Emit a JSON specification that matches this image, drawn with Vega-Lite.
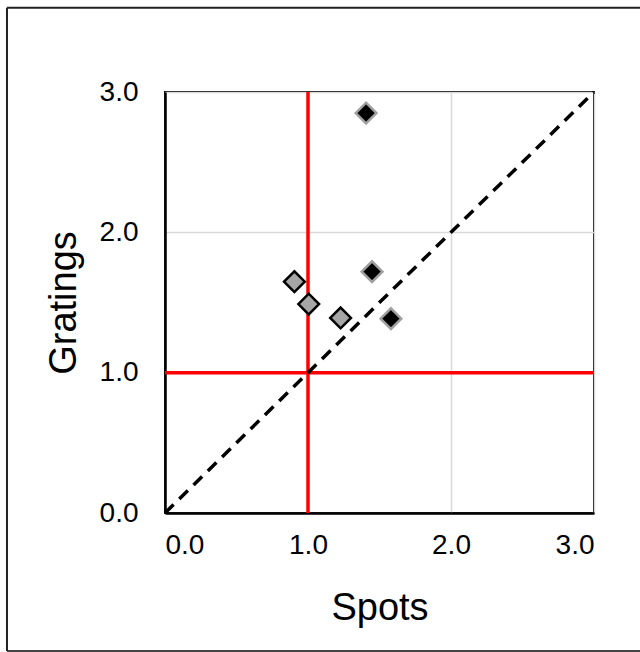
{
  "$schema": "https://vega.github.io/schema/vega-lite/v6.json",
  "autosize": {"type": "none"},
  "width": 429,
  "height": 421,
  "padding": {"left": 165, "top": 92, "right": 46, "bottom": 139},
  "background": "white",
  "config": {
    "view": {"stroke": "#000000", "strokeWidth": 2},
    "font": "Liberation Sans",
    "axis": {
      "domainColor": "#000000",
      "domainWidth": 2.5,
      "ticks": false,
      "gridColor": "#d9d9d9",
      "gridWidth": 1.5,
      "labelFont": "Liberation Sans",
      "labelFontSize": 28,
      "labelColor": "#000000",
      "titleFont": "Liberation Sans",
      "titleFontSize": 38,
      "titleFontWeight": "normal",
      "titleColor": "#000000"
    }
  },
  "datasets": {
    "points": [
      {"spots": 1.406, "gratings": 2.85, "group": "A"},
      {"spots": 1.448, "gratings": 1.72, "group": "A"},
      {"spots": 1.58, "gratings": 1.385, "group": "A"},
      {"spots": 0.905, "gratings": 1.648, "group": "B"},
      {"spots": 1.005, "gratings": 1.489, "group": "B"},
      {"spots": 1.228, "gratings": 1.39, "group": "B"}
    ],
    "diag": [
      {"spots": 0, "gratings": 0},
      {"spots": 3, "gratings": 3}
    ],
    "ref": [{"v": 1}]
  },
  "layer": [
    {
      "data": {"name": "ref"},
      "mark": {"type": "rule", "color": "#222222", "strokeWidth": 2, "clip": false},
      "encoding": {
        "x": {"datum": -1.105, "type": "quantitative", "scale": {"domain": [0, 3], "nice": false}},
        "x2": {"datum": 4.5},
        "y": {"datum": 3.6, "type": "quantitative", "scale": {"domain": [0, 3], "nice": false}}
      }
    },
    {
      "data": {"name": "ref"},
      "mark": {"type": "rule", "color": "#444444", "strokeWidth": 2, "clip": false},
      "encoding": {
        "x": {"datum": -1.105, "type": "quantitative"},
        "x2": {"datum": 4.5},
        "y": {"datum": -0.983, "type": "quantitative"}
      }
    },
    {
      "data": {"name": "ref"},
      "mark": {"type": "rule", "color": "#222222", "strokeWidth": 2, "clip": false},
      "encoding": {
        "x": {"datum": -1.105, "type": "quantitative"},
        "y": {"datum": 3.6, "type": "quantitative"},
        "y2": {"datum": -0.983}
      }
    },
    {
      "data": {"name": "ref"},
      "mark": {"type": "rule", "color": "#ff0000", "strokeWidth": 3.5},
      "encoding": {
        "x": {"field": "v", "type": "quantitative", "scale": {"domain": [0, 3], "nice": false},
          "axis": {"title": "Spots", "values": [0, 1, 2, 3], "format": ".1f", "grid": true, "labelPadding": 18, "titlePadding": 30}}
      }
    },
    {
      "data": {"name": "ref"},
      "mark": {"type": "rule", "color": "#ff0000", "strokeWidth": 3.5},
      "encoding": {
        "y": {"field": "v", "type": "quantitative", "scale": {"domain": [0, 3], "nice": false},
          "axis": {"title": "Gratings", "values": [0, 1, 2, 3], "format": ".1f", "grid": true, "labelPadding": 27, "titlePadding": 16}}
      }
    },
    {
      "data": {"name": "diag"},
      "mark": {"type": "line", "color": "#000000", "strokeWidth": 3.5, "strokeDash": [12, 8]},
      "encoding": {
        "x": {"field": "spots", "type": "quantitative"},
        "y": {"field": "gratings", "type": "quantitative"}
      }
    },
    {
      "data": {"name": "points"},
      "mark": {"type": "point", "shape": "diamond", "filled": true, "size": 430, "strokeWidth": 2.5, "opacity": 1},
      "encoding": {
        "x": {"field": "spots", "type": "quantitative"},
        "y": {"field": "gratings", "type": "quantitative"},
        "fill": {"field": "group", "type": "nominal", "scale": {"domain": ["A", "B"], "range": ["#000000", "#a6a6a6"]}, "legend": null},
        "stroke": {"field": "group", "type": "nominal", "scale": {"domain": ["A", "B"], "range": ["#a0a0a0", "#000000"]}, "legend": null}
      }
    }
  ]
}
